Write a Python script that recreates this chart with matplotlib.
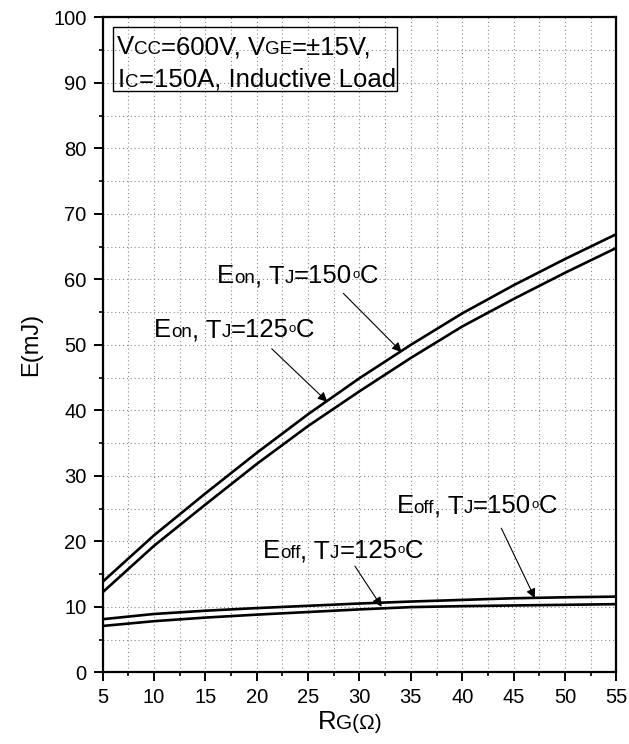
import numpy as np
import matplotlib
matplotlib.use("Agg")
from matplotlib import pyplot as plt
from matplotlib import transforms
from matplotlib.ticker import MultipleLocator
from matplotlib.patches import Rectangle

plt.rcParams['font.family'] = ['Liberation Sans', 'DejaVu Sans']

# gate resistance (ohm)
rg = [5, 10, 15, 20, 25, 30, 35, 40, 45, 50, 55]
# switching energies (mJ)
eon_150 = [13.8, 20.9, 27.3, 33.5, 39.4, 44.9, 50.0, 54.8, 59.1, 63.1, 66.9]
eon_125 = [12.2, 19.3, 25.6, 31.8, 37.6, 42.9, 48.0, 52.8, 57.0, 61.0, 64.8]
eoff_150 = [8.1, 8.9, 9.4, 9.8, 10.15, 10.5, 10.8, 11.05, 11.3, 11.45, 11.55]
eoff_125 = [7.07, 7.8, 8.35, 8.8, 9.2, 9.6, 9.95, 10.1, 10.2, 10.3, 10.4]

BIG = 18.5
SMALL = 13.5

fig = plt.figure(figsize=(6.29, 7.44), dpi=100)
ax = fig.add_axes([0.163, 0.0964, 0.817, 0.8803])

for y in (eon_150, eon_125, eoff_150, eoff_125):
    ax.plot(rg, y, color='black', lw=1.9, solid_capstyle='butt')

ax.set_xlim(5, 55)
ax.set_ylim(0, 100)
ax.xaxis.set_major_locator(MultipleLocator(5))
ax.xaxis.set_minor_locator(MultipleLocator(2.5))
ax.yaxis.set_major_locator(MultipleLocator(10))
ax.yaxis.set_minor_locator(MultipleLocator(5))
ax.grid(which='both', color='#8c8c8c', linestyle=(0, (1, 2.5)), lw=0.8)
ax.tick_params(which='major', direction='out', length=6.5, width=1.4, labelsize=14.5, pad=5)
ax.tick_params(which='minor', direction='out', length=3, width=1.2)
for sp in ax.spines.values():
    sp.set_linewidth(1.6)

renderer = fig.canvas.get_renderer()


def rich_text(x, y, parts, transform=None):
    # pieces of text with different sizes on one baseline; optional raise in points
    base = transform if transform is not None else ax.transData
    dx = 0
    for p in parts:
        s, size = p[0], p[1]
        dy = p[2] if len(p) > 2 else 0
        tr = transforms.offset_copy(base, fig=fig, x=dx * 72 / fig.dpi, y=dy, units='points')
        t = ax.text(x, y, s, fontsize=size, transform=tr, ha='left', va='baseline')
        dx += t.get_window_extent(renderer).width


def label(sub, temp):
    return [('E', BIG), (sub, SMALL), (', T', BIG), ('J', SMALL), ('=' + temp, BIG),
            ('o', 9.5, 3.5), ('C', BIG)]


# condition box
ax.add_patch(Rectangle((6.02, 88.7), 27.6, 9.8, fill=False, lw=1.0, ec='black', zorder=3))
rich_text(6.38, 94.4, [('V', BIG), ('CC', SMALL), ('=600V, V', BIG), ('GE', SMALL),
                       ('=±15V,', BIG)])
rich_text(6.5, 89.4, [('I', BIG), ('C', SMALL), ('=150A, Inductive Load', BIG)])

# curve labels
rich_text(16.17, 59.4, label('on', '150'))
rich_text(10.0, 51.15, label('on', '125'))
rich_text(33.6, 24.3, label('off', '150'))
rich_text(20.6, 17.4, label('off', '125'))

arrows = [((28.43, 57.86), (34.1, 48.9)),
          ((21.46, 49.4), (26.87, 41.3)),
          ((43.8, 22.0), (47.07, 11.3)),
          ((29.56, 16.2), (32.16, 10.0))]
for start, tip in arrows:
    ax.annotate('', xy=tip, xytext=start,
                arrowprops=dict(arrowstyle='-|>', color='black', lw=0.8,
                                mutation_scale=14, shrinkA=0, shrinkB=0))

ax.set_ylabel('E(mJ)', fontsize=17, labelpad=8)

# x label with smaller letters after R
rich_text(0.419, -0.0866, [('R', BIG), ('G(Ω)', 15)], transform=ax.transAxes)

fig.savefig('out.png', dpi=100)
